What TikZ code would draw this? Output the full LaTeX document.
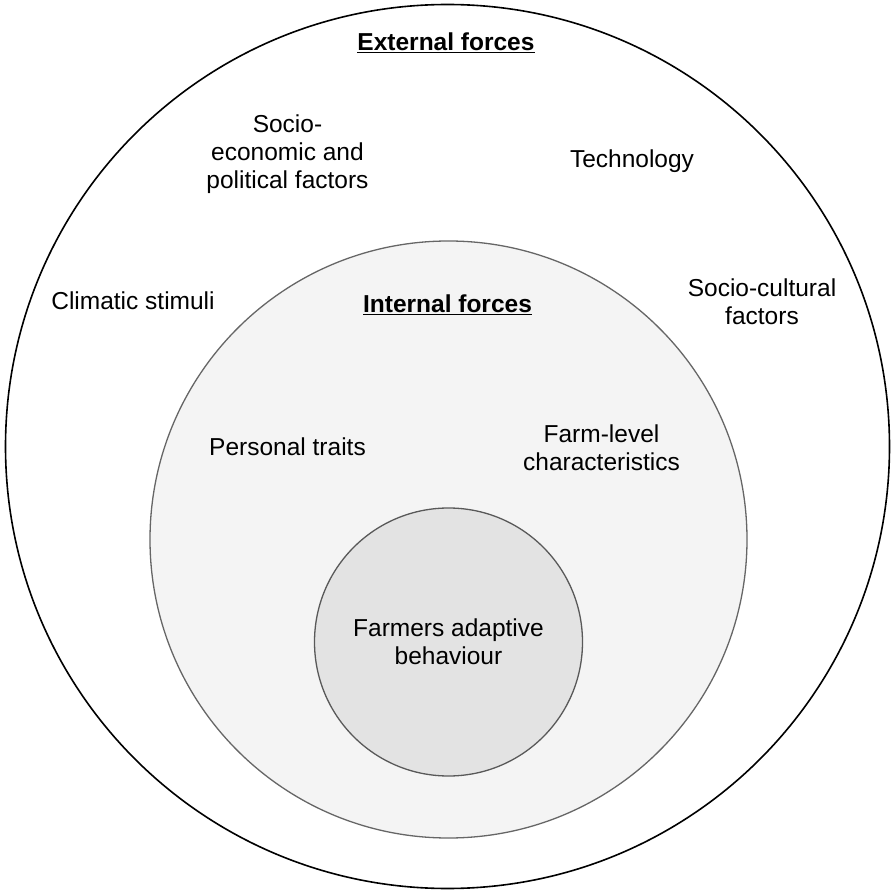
\documentclass[tikz,border=0pt]{standalone}
\usepackage{fontspec}
\setmainfont{Liberation Sans}
\usetikzlibrary{positioning}
\definecolor{innerfill}{HTML}{F4F4F4}
\definecolor{corefill}{HTML}{E3E3E3}

\begin{document}
\begin{tikzpicture}[x=1pt,y=-1pt]
    \tikzstyle{ring}=[circle,inner sep=0pt,line width=1.3pt]
    \tikzstyle{outer ring}=[ring,draw=black,line width=1.6pt,minimum size=884pt]
    \tikzstyle{inner ring}=[ring,draw=black!60,fill=innerfill,minimum size=597pt]
    \tikzstyle{core ring}=[ring,draw=black!65,fill=corefill,minimum size=268pt]
    \tikzstyle{factor}=[align=center,inner sep=0pt,font=\fontsize{24.5}{28}\selectfont]
    \tikzstyle{heading}=[factor,font=\fontsize{24.5}{28}\selectfont\bfseries]

    \useasboundingbox (0,0) rectangle (895,893);

    % the three rings
    \node[outer ring] (ext) at (447.5,446.5) {};
    \node[inner ring] (int) at (448.5,539.5) {};
    \node[core ring] (core) at (448.5,642) {};

    % external forces
    \node[heading] (ext-title) at (446,43) {\underline{External forces}};
    \node[factor] (socio) at (287.5,154.5) {Socio-\\economic and\\political factors};
    \node[factor] (tech) at (632,161.5) {Technology};
    \node[factor] (clim) at (133,301) {Climatic stimuli};
    \node[factor] (cult) at (762,301.5) {Socio-cultural\\factors};

    % internal forces
    \node[heading] (int-title) at (447.5,305) {\underline{Internal forces}};
    \node[factor] (pers) at (287.5,447) {Personal traits};
    \node[factor] (farm) at (601.5,447.5) {Farm-level\\characteristics};

    % core
    \node[factor] (behav) at (core) {Farmers adaptive\\behaviour};
\end{tikzpicture}
\end{document}
